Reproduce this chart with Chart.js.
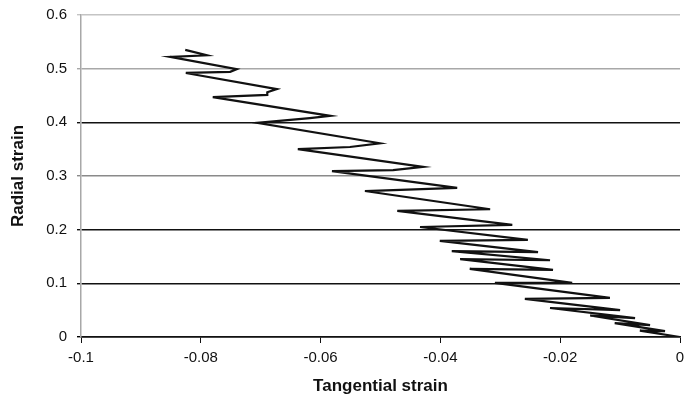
<!DOCTYPE html>
<html>
<head>
<meta charset="utf-8">
<script src="https://cdn.jsdelivr.net/npm/chart.js@4"></script>
<style>
  html, body { margin: 0; padding: 0; background: #fff; }
  #wrap { width: 684px; height: 408px; }
</style>
</head>
<body>
<div id="wrap"><canvas id="strainChart" width="684" height="408"></canvas></div>
<script>
// strain path (top start -> origin)
const tangentialStrain = [
  -0.0826, -0.0790, -0.0851, -0.0740, -0.0751, -0.0825, -0.0673, -0.0689, -0.0689, -0.0780,
  -0.0584, -0.0618, -0.0706, -0.0501, -0.0551, -0.0638, -0.0429, -0.0479, -0.0581, -0.0372,
  -0.0526, -0.0317, -0.0472, -0.0280, -0.0434, -0.0254, -0.0401, -0.0237, -0.0381, -0.0217,
  -0.0367, -0.0212, -0.0351, -0.0180, -0.0309, -0.0117, -0.0259, -0.0100, -0.0217, -0.0075,
  -0.0150, -0.0050, -0.0109, -0.0025, -0.0067, 0
];
const radialStrain = [
  0.535, 0.525, 0.522, 0.499, 0.494, 0.492, 0.462, 0.456, 0.451, 0.447,
  0.412, 0.408, 0.399, 0.361, 0.354, 0.350, 0.317, 0.311, 0.309, 0.278,
  0.272, 0.238, 0.235, 0.209, 0.205, 0.181, 0.179, 0.158, 0.160, 0.143,
  0.145, 0.125, 0.127, 0.101, 0.101, 0.073, 0.071, 0.050, 0.054, 0.035,
  0.040, 0.022, 0.026, 0.011, 0.012, 0
];
const xTickLabels = ["-0.1", "-0.08", "-0.06", "-0.04", "-0.02", "0"];
const yTickLabels = ["0", "0.1", "0.2", "0.3", "0.4", "0.5", "0.6"];

// the scanned gridlines are not all equally dark
const yGridColors = ["#000", "#111", "#111", "#8a8a8a", "#111", "#a8a8a8", "#c4c4c4"];

const FONT = "'Liberation Sans', Arial, sans-serif";

const points = tangentialStrain.map((x, i) => ({ x, y: radialStrain[i] }));

const ctx = document.getElementById("strainChart").getContext("2d");
new Chart(ctx, {
  type: "scatter",
  data: {
    datasets: [{
      data: points,
      showLine: true,
      borderColor: "#111",
      borderWidth: 2.2,
      pointRadius: 0,
      tension: 0
    }]
  },
  options: {
    responsive: false,
    animation: false,
    devicePixelRatio: 1,
    layout: { padding: { top: 15, right: 4, left: 0, bottom: 0 } },
    plugins: { legend: { display: false }, tooltip: { enabled: false } },
    scales: {
      x: {
        type: "linear",
        min: -0.1,
        max: 0,
        ticks: {
          stepSize: 0.02,
          color: "#111",
          font: { family: FONT, size: 15 },
          padding: 6,
          maxRotation: 0,
          callback: (v, i) => xTickLabels[i]
        },
        grid: { drawOnChartArea: false, drawTicks: true, tickLength: 6, color: "#111" },
        border: { color: "#111", width: 1.5 },
        title: {
          display: true,
          text: "Tangential strain",
          color: "#111",
          font: { family: FONT, size: 17, weight: "bold" },
          padding: { top: 0, bottom: 11 }
        },
        afterFit: s => { s.height = 71; s.paddingLeft = 0; s.paddingRight = 0; }
      },
      y: {
        type: "linear",
        min: 0,
        max: 0.6,
        ticks: {
          stepSize: 0.1,
          color: "#111",
          font: { family: FONT, size: 15 },
          padding: 10,
          callback: (v, i) => yTickLabels[i]
        },
        grid: {
          color: c => yGridColors[c.index] || "#111",
          lineWidth: 1.4,
          tickLength: 4
        },
        border: { color: "#a8a8a8", width: 1.5 },
        title: {
          display: true,
          text: "Radial strain",
          color: "#111",
          font: { family: FONT, size: 17, weight: "bold" },
          padding: { top: 8, bottom: 0 }
        },
        afterFit: s => { s.width = 81; s.paddingTop = 0; s.paddingBottom = 0; }
      }
    }
  }
});
</script>
</body>
</html>
